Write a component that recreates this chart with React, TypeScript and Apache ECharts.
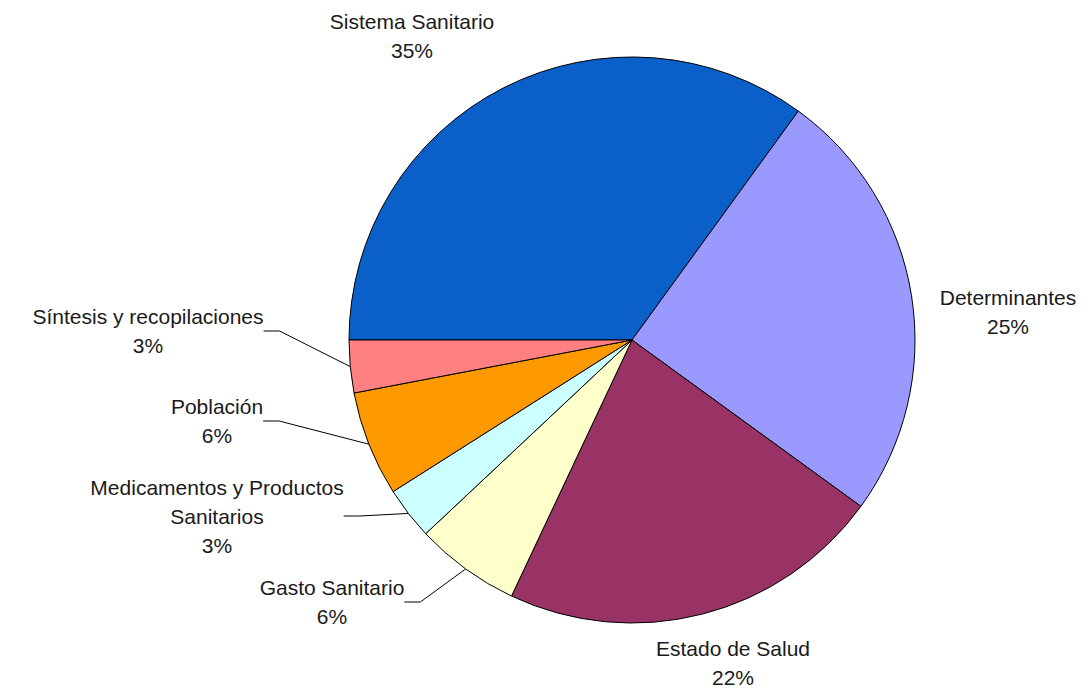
import React, { useEffect, useRef } from "react";
import * as echarts from "echarts";

// ---- data ----
const categories = [
  "Sistema Sanitario",
  "Determinantes",
  "Estado de Salud",
  "Gasto Sanitario",
  "Medicamentos y Productos\nSanitarios",
  "Población",
  "Síntesis y recopilaciones",
];
const shares = [35, 25, 22, 6, 3, 6, 3];
const sliceColors = ["#0A5FC8", "#9999FF", "#993366", "#FFFFCC", "#CCFFFF", "#FF9900", "#FF8080"];
const hasLeader = [false, false, false, true, true, true, true];

// ---- layout (label block centres, px) ----
const labelCentres: [number, number][] = [
  [412, 36],
  [1008, 312],
  [733, 663],
  [332, 602],
  [217, 516],
  [217, 421],
  [148, 331],
];

export default function App() {
  const ref = useRef<HTMLDivElement>(null);
  useEffect(() => {
    document.body.style.margin = "0";
    const chart = echarts.init(ref.current!, null, { renderer: "svg" });
    chart.setOption({
      animation: false,
      backgroundColor: "#ffffff",
      series: [
        {
          type: "pie",
          center: [632, 340],
          radius: 283,
          startAngle: 180,
          clockwise: true,
          avoidLabelOverlap: false,
          itemStyle: { borderColor: "#000", borderWidth: 1 },
          label: {
            show: true,
            position: "outside",
            fontFamily: "'Liberation Sans', Arial, sans-serif",
            fontSize: 21,
            lineHeight: 29,
            color: "#1a1a1a",
            align: "center",
            formatter: (p: any) => `${p.name}\n${Math.round(p.percent)}%`,
          },
          labelLine: {
            show: true,
            length: 10,
            length2: 16,
            smooth: false,
            lineStyle: { color: "#000", width: 1 },
          },
          labelLayout: (params: any) => {
            const c = labelCentres[params.dataIndex];
            return { x: c[0], y: c[1], align: "center", verticalAlign: "middle" };
          },
          data: categories.map((name, i) => ({
            name,
            value: shares[i],
            itemStyle: { color: sliceColors[i] },
            labelLine: { show: hasLeader[i] },
          })),
        },
      ],
    });
    return () => chart.dispose();
  }, []);
  return <div ref={ref} style={{ width: 1090, height: 691 }} />;
}
